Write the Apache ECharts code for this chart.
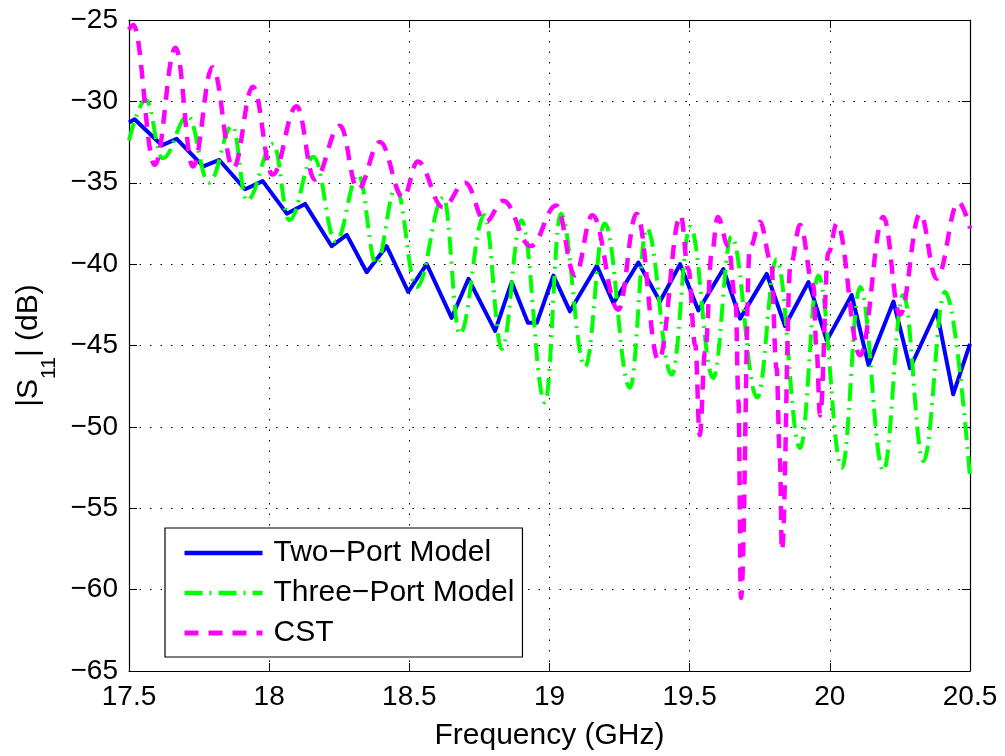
<!DOCTYPE html>
<html><head><meta charset="utf-8">
<script src="https://cdn.jsdelivr.net/npm/echarts@6/dist/echarts.min.js"></script>
<style>html,body{margin:0;padding:0;background:#fff}#c{width:1005px;height:756px}</style>
</head><body><div id="c"></div>
<script>
// ---- data ----
const freqTwoPort = [17.5,17.52,17.617,17.67,17.765,17.822,17.914,17.977,18.063,18.128,18.223,18.277,18.348,18.419,18.496,18.562,18.651,18.711,18.806,18.865,18.923,18.955,19.014,19.073,19.169,19.228,19.317,19.394,19.466,19.531,19.62,19.68,19.775,19.84,19.924,19.989,20.078,20.138,20.227,20.286,20.381,20.44,20.5];
const s11TwoPort  = [-31.3,-31.1,-32.7,-32.3,-34.0,-33.6,-35.4,-34.9,-36.9,-36.3,-38.9,-38.2,-40.5,-38.9,-41.7,-40.0,-43.3,-40.9,-44.1,-41.1,-43.6,-43.6,-40.7,-42.9,-40.1,-42.4,-39.9,-42.3,-40.0,-42.85,-40.3,-43.35,-40.6,-43.8,-41.1,-44.7,-41.9,-46.2,-42.3,-46.4,-42.85,-48.0,-44.9];

const freqThreePort = [17.5,17.56,17.62,17.71,17.785,17.869,17.92,18.015,18.072,18.158,18.238,18.318,18.382,18.452,18.526,18.622,18.68,18.768,18.83,18.9,18.984,19.04,19.127,19.197,19.287,19.347,19.436,19.502,19.584,19.649,19.741,19.81,19.894,19.959,20.043,20.108,20.191,20.262,20.334,20.411,20.5];
const s11ThreePort  = [-32.4,-29.9,-33.5,-30.9,-35.0,-31.5,-36.1,-32.6,-37.3,-33.4,-38.6,-34.5,-40.0,-35.3,-41.4,-35.9,-44.3,-37.0,-45.2,-37.3,-48.5,-36.9,-46.3,-37.5,-47.6,-37.8,-46.8,-37.7,-47.0,-38.3,-48.2,-39.7,-51.3,-40.7,-52.5,-41.4,-52.7,-41.9,-52.1,-41.7,-53.1];

const freqCST = [17.5,17.515,17.592,17.666,17.728,17.798,17.872,17.942,18.012,18.098,18.162,18.253,18.316,18.395,18.478,18.53,18.62,18.699,18.772,18.835,18.933,19.024,19.091,19.153,19.245,19.311,19.389,19.468,19.495,19.52,19.536,19.555,19.579,19.6,19.638,19.664,19.674,19.683,19.715,19.751,19.79,19.81,19.822,19.829,19.86,19.894,19.941,19.953,19.965,19.995,20.025,20.108,20.191,20.25,20.322,20.381,20.459,20.5];
const s11CST  = [-25.6,-25.3,-33.9,-26.7,-34.0,-27.9,-34.1,-29.1,-34.5,-30.3,-34.8,-31.5,-35.4,-32.5,-35.9,-33.7,-36.5,-35.0,-37.4,-36.1,-38.9,-36.4,-40.7,-37.0,-42.8,-36.9,-45.9,-37.0,-40.3,-45.0,-50.5,-45.4,-39.3,-37.1,-38.9,-42.3,-48.4,-60.5,-39.0,-37.4,-39.8,-46.4,-52.0,-57.6,-40.0,-37.6,-41.3,-45.4,-49.3,-39.3,-37.5,-45.6,-37.1,-43.1,-36.9,-40.9,-36.2,-37.8];

const seriesNames = ['Two\u2212Port Model', 'Three\u2212Port Model', 'CST'];
const xMin = 17.5, xMax = 20.5, xStep = 0.5;
const yMin = -65, yMax = -25, yStep = 5;

// ---- chart ----
const zip = (a, b) => a.map((v, i) => [v, b[i]]);
const FONT = "'Liberation Sans', Arial, Helvetica, sans-serif";
const minus = v => String(v).replace('-', '\u2212');

const chart = echarts.init(document.getElementById('c'), null, {renderer: 'canvas'});
const axisCommon = {
  axisLine: {show: true, onZero: false, lineStyle: {color: '#000', width: 1.2}},
  axisTick: {show: true, inside: true, length: 8, lineStyle: {color: '#000', width: 1}},
};
chart.setOption({
  animation: false,
  backgroundColor: '#fff',
  grid: {left: 129, right: 35, top: 20, bottom: 82, containLabel: false},
  xAxis: [
    Object.assign({
      type: 'value', min: xMin, max: xMax, interval: xStep, position: 'bottom',
      axisLabel: {color: '#000', fontSize: 28, fontFamily: FONT, margin: 12, formatter: minus},
      splitLine: {show: true, lineStyle: {color: '#000', width: 1, type: [1.5, 9]}},
      name: 'Frequency (GHz)', nameLocation: 'middle', nameGap: 50,
      nameTextStyle: {color: '#000', fontSize: 30, fontFamily: FONT}
    }, axisCommon),
    Object.assign({
      type: 'value', min: xMin, max: xMax, interval: xStep, position: 'top',
      axisLabel: {show: false}, splitLine: {show: false}
    }, axisCommon)
  ],
  yAxis: [
    Object.assign({
      type: 'value', min: yMin, max: yMax, interval: yStep, position: 'left',
      axisLabel: {color: '#000', fontSize: 28, fontFamily: FONT, margin: 11, formatter: minus},
      splitLine: {show: true, lineStyle: {color: '#000', width: 1, type: [1.5, 9]}},
      name: '{n||S}{s|11}{n|| (dB)}', nameLocation: 'middle', nameGap: 74, nameRotate: 90,
      nameTextStyle: {color: '#000', fontFamily: FONT,
        rich: {
          n: {fontSize: 30, fontFamily: FONT, color: '#000'},
          s: {fontSize: 21, fontFamily: FONT, color: '#000', verticalAlign: 'bottom', padding: [0, 0, -16, 0]}
        }}
    }, axisCommon),
    Object.assign({
      type: 'value', min: yMin, max: yMax, interval: yStep, position: 'right',
      axisLabel: {show: false}, splitLine: {show: false}
    }, axisCommon)
  ],
  legend: {
    orient: 'vertical', left: 165, top: 528,
    padding: [10, 8, 9, 17], itemGap: 10, itemWidth: 78, itemHeight: 30,
    backgroundColor: '#fff', borderColor: '#000', borderWidth: 1.2, borderRadius: 0,
    itemStyle: {opacity: 0},
    textStyle: {color: '#000', fontSize: 30, fontFamily: FONT, padding: [0, 0, 0, 6]},
    data: [
      {name: seriesNames[0], lineStyle: {width: 4.5}},
      {name: seriesNames[1], lineStyle: {width: 4.5}},
      {name: seriesNames[2], lineStyle: {width: 5}}
    ]
  },
  series: [
    {
      name: seriesNames[0], type: 'line', data: zip(freqTwoPort, s11TwoPort),
      symbol: 'none', smooth: false, color: '#0000ff',
      lineStyle: {color: '#0000ff', width: 4, join: 'round'}, z: 3
    },
    {
      name: seriesNames[1], type: 'line', data: zip(freqThreePort, s11ThreePort),
      symbol: 'none', smooth: 0.4, smoothMonotone: 'x', color: '#00ff00',
      lineStyle: {color: '#00ff00', width: 4, type: [18, 7, 2, 7]}, z: 4
    },
    {
      name: seriesNames[2], type: 'line', data: zip(freqCST, s11CST),
      symbol: 'none', smooth: 0.4, smoothMonotone: 'x', color: '#ff00ff',
      lineStyle: {color: '#ff00ff', width: 4.5, type: [14, 10]}, z: 5
    }
  ]
});
</script>
</body></html>
